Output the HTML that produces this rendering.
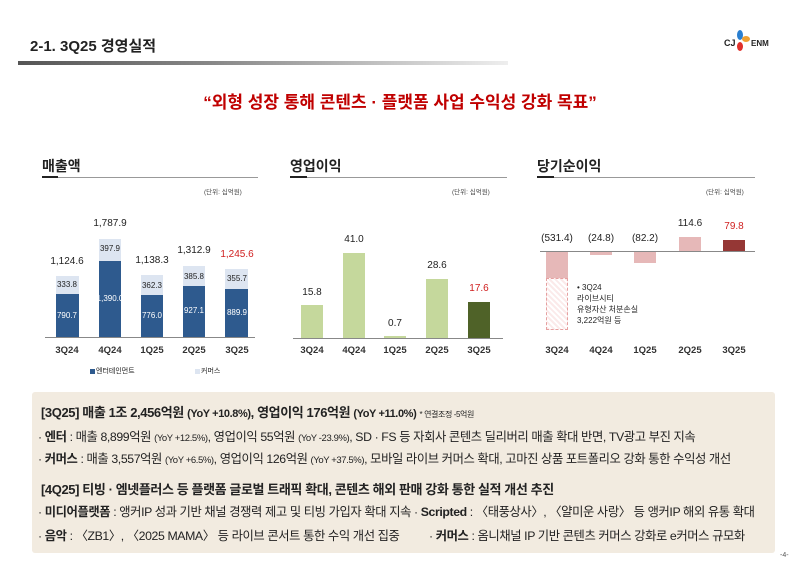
<!DOCTYPE html>
<html><head><meta charset="utf-8"><style>
body{margin:0;width:800px;height:567px;background:#fff;position:relative;overflow:hidden;font-family:"Liberation Sans","Noto Sans CJK KR",sans-serif;color:#222}
.a{position:absolute;white-space:nowrap}
.c{transform:translateX(-50%)}
.b{position:absolute}
.t{font-size:10px}
.h{font-size:14px;font-weight:bold}
.xl{font-size:9.5px;font-weight:bold;color:#333}
.u{font-size:6.5px;color:#444}
.line{position:absolute;height:1px;background:#999}
.dk{position:absolute;height:2px;background:#222}
.bx{font-size:12.3px;color:#222}
.s{font-size:9.5px}
</style></head><body>
<div class="a" style="left:30px;top:35px;font-size:15px;font-weight:bold">2-1. 3Q25 경영실적</div>
<div class="b" style="left:18px;top:61px;width:490px;height:4px;background:linear-gradient(90deg,#555,#888 40%,#eee)"></div>
<div class="b" style="left:737px;top:30px;width:6px;height:10px;border-radius:50%;background:#2a7fd0"></div>
<div class="b" style="left:742px;top:36px;width:8px;height:6px;border-radius:50%;background:#f0a030"></div>
<div class="b" style="left:737px;top:42px;width:6px;height:9px;border-radius:50%;background:#e0302a"></div>
<div class="a" style="left:724px;top:38px;font-size:9px;font-weight:bold">CJ</div>
<div class="a" style="left:751px;top:39px;font-size:8px;font-weight:bold">ENM</div>
<div class="a c" style="left:400px;top:88px;font-size:17px;font-weight:bold;color:#c00000">“외형 성장 통해 콘텐츠 · 플랫폼 사업 수익성 강화 목표”</div>

<!-- chart1 -->
<div class="a h" style="left:42px;top:156px">매출액</div>
<div class="line" style="left:42px;top:177px;width:216px"></div><div class="dk" style="left:42px;top:176px;width:16px"></div>
<div class="a u" style="left:204px;top:186px">(단위: 십억원)</div>
<div class="line" style="left:45px;top:337px;width:210px;background:#888"></div>
<div class="b" style="left:56px;top:276px;width:23px;height:18px;background:#dde5f1"></div><div class="b" style="left:56px;top:294px;width:23px;height:43px;background:#2e5a8e"></div>
<div class="b" style="left:99px;top:239px;width:22px;height:22px;background:#dde5f1"></div><div class="b" style="left:99px;top:261px;width:22px;height:76px;background:#2e5a8e"></div>
<div class="b" style="left:141px;top:275px;width:22px;height:20px;background:#dde5f1"></div><div class="b" style="left:141px;top:295px;width:22px;height:42px;background:#2e5a8e"></div>
<div class="b" style="left:183px;top:266px;width:22px;height:20px;background:#dde5f1"></div><div class="b" style="left:183px;top:286px;width:22px;height:51px;background:#2e5a8e"></div>
<div class="b" style="left:225px;top:269px;width:23px;height:20px;background:#dde5f1"></div><div class="b" style="left:225px;top:289px;width:23px;height:48px;background:#2e5a8e"></div>
<div class="a c t" style="left:67px;top:256px">1,124.6</div>
<div class="a c t" style="left:110px;top:218px">1,787.9</div>
<div class="a c t" style="left:152px;top:255px">1,138.3</div>
<div class="a c t" style="left:194px;top:245px">1,312.9</div>
<div class="a c t" style="left:237px;top:249px;color:#d02020">1,245.6</div>
<div class="a c" style="left:67px;top:280px;font-size:8px">333.8</div>
<div class="a c" style="left:110px;top:244px;font-size:8px">397.9</div>
<div class="a c" style="left:152px;top:281px;font-size:8px">362.3</div>
<div class="a c" style="left:194px;top:272px;font-size:8px">385.8</div>
<div class="a c" style="left:237px;top:274px;font-size:8px">355.7</div>
<div class="a c" style="left:67px;top:311px;font-size:8px;color:#fff">790.7</div>
<div class="a c" style="left:110px;top:294px;font-size:8px;color:#fff">1,390.0</div>
<div class="a c" style="left:152px;top:311px;font-size:8px;color:#fff">776.0</div>
<div class="a c" style="left:194px;top:306px;font-size:8px;color:#fff">927.1</div>
<div class="a c" style="left:237px;top:308px;font-size:8px;color:#fff">889.9</div>
<div class="a c xl" style="left:67px;top:345px">3Q24</div><div class="a c xl" style="left:110px;top:345px">4Q24</div><div class="a c xl" style="left:152px;top:345px">1Q25</div><div class="a c xl" style="left:194px;top:345px">2Q25</div><div class="a c xl" style="left:237px;top:345px">3Q25</div>
<div class="b" style="left:90px;top:369px;width:5px;height:5px;background:#2e5a8e"></div><div class="a" style="left:96px;top:366px;font-size:7px">엔터테인먼트</div>
<div class="b" style="left:195px;top:369px;width:5px;height:5px;background:#dde5f1"></div><div class="a" style="left:201px;top:366px;font-size:7px">커머스</div>

<!-- chart2 -->
<div class="a h" style="left:290px;top:156px">영업이익</div>
<div class="line" style="left:290px;top:177px;width:217px"></div><div class="dk" style="left:290px;top:176px;width:17px"></div>
<div class="a u" style="left:452px;top:186px">(단위: 십억원)</div>
<div class="line" style="left:293px;top:338px;width:210px;background:#888"></div>
<div class="b" style="left:301px;top:305px;width:22px;height:33px;background:#c5d89c"></div>
<div class="b" style="left:343px;top:253px;width:22px;height:85px;background:#c5d89c"></div>
<div class="b" style="left:384px;top:336px;width:22px;height:2px;background:#c5d89c"></div>
<div class="b" style="left:426px;top:279px;width:22px;height:59px;background:#c5d89c"></div>
<div class="b" style="left:468px;top:302px;width:22px;height:36px;background:#4f6228"></div>
<div class="a c t" style="left:312px;top:287px">15.8</div>
<div class="a c t" style="left:354px;top:234px">41.0</div>
<div class="a c t" style="left:395px;top:318px">0.7</div>
<div class="a c t" style="left:437px;top:260px">28.6</div>
<div class="a c t" style="left:479px;top:283px;color:#d02020">17.6</div>
<div class="a c xl" style="left:312px;top:345px">3Q24</div><div class="a c xl" style="left:354px;top:345px">4Q24</div><div class="a c xl" style="left:395px;top:345px">1Q25</div><div class="a c xl" style="left:437px;top:345px">2Q25</div><div class="a c xl" style="left:479px;top:345px">3Q25</div>

<!-- chart3 -->
<div class="a h" style="left:537px;top:156px">당기순이익</div>
<div class="line" style="left:537px;top:177px;width:218px"></div><div class="dk" style="left:537px;top:176px;width:17px"></div>
<div class="a u" style="left:706px;top:186px">(단위: 십억원)</div>
<div class="b" style="left:546px;top:251px;width:22px;height:27px;background:#e6b8b8"></div>
<div class="b" style="left:546px;top:278px;width:20px;height:50px;border:1px dashed #e6a0a0;background:repeating-linear-gradient(45deg,#fbeaea 0 2px,#fff 2px 4px)"></div>
<div class="b" style="left:590px;top:251px;width:22px;height:4px;background:#e6b8b8"></div>
<div class="b" style="left:634px;top:251px;width:22px;height:12px;background:#e6b8b8"></div>
<div class="b" style="left:679px;top:237px;width:22px;height:14px;background:#e6b8b8"></div>
<div class="b" style="left:723px;top:240px;width:22px;height:11px;background:#953735"></div>
<div class="line" style="left:540px;top:251px;width:215px;background:#888"></div>
<div class="a c t" style="left:557px;top:233px">(531.4)</div>
<div class="a c t" style="left:601px;top:233px">(24.8)</div>
<div class="a c t" style="left:645px;top:233px">(82.2)</div>
<div class="a c t" style="left:690px;top:218px">114.6</div>
<div class="a c t" style="left:734px;top:221px;color:#d02020">79.8</div>
<div class="a" style="left:577px;top:282px;font-size:8px;line-height:11px">• 3Q24<br>라이브시티<br>유형자산 처분손실<br>3,222억원 등</div>
<div class="a c xl" style="left:557px;top:345px">3Q24</div><div class="a c xl" style="left:601px;top:345px">4Q24</div><div class="a c xl" style="left:645px;top:345px">1Q25</div><div class="a c xl" style="left:690px;top:345px">2Q25</div><div class="a c xl" style="left:734px;top:345px">3Q25</div>

<!-- box -->
<div class="b" style="left:32px;top:392px;width:743px;height:161px;background:#f2ebe0;border-radius:3px"></div>
<div class="a" style="left:41px;top:402px;font-size:13px;font-weight:bold;letter-spacing:-0.4px">[3Q25] 매출 1조 2,456억원 <span style="font-size:11px">(YoY +10.8%)</span>, 영업이익 176억원 <span style="font-size:11px">(YoY +11.0%)</span> <span style="font-size:8px;font-weight:normal">* 연결조정 -5억원</span></div>
<div class="a bx" style="left:38px;top:427px;letter-spacing:-0.4px">· <b>엔터</b> : 매출 8,899억원 <span class="s">(YoY +12.5%)</span>, 영업이익 55억원 <span class="s">(YoY -23.9%)</span>, SD · FS 등 자회사 콘텐츠 딜리버리 매출 확대 반면, TV광고 부진 지속</div>
<div class="a bx" style="left:38px;top:449px;letter-spacing:-0.4px">· <b>커머스</b> : 매출 3,557억원 <span class="s">(YoY +6.5%)</span>, 영업이익 126억원 <span class="s">(YoY +37.5%)</span>, 모바일 라이브 커머스 확대, 고마진 상품 포트폴리오 강화 통한 수익성 개선</div>
<div class="a" style="left:41px;top:479px;font-size:13px;font-weight:bold;letter-spacing:-0.4px">[4Q25] 티빙 · 엠넷플러스 등 플랫폼 글로벌 트래픽 확대, 콘텐츠 해외 판매 강화 통한 실적 개선 추진</div>
<div class="a bx" style="left:38px;top:502px;letter-spacing:-0.4px">· <b>미디어플랫폼</b> : 앵커IP 성과 기반 채널 경쟁력 제고 및 티빙 가입자 확대 지속 · <b>Scripted</b> : 〈태풍상사〉, 〈얄미운 사랑〉 등 앵커IP 해외 유통 확대</div>
<div class="a bx" style="left:38px;top:526px;letter-spacing:-0.4px">· <b>음악</b> : 〈ZB1〉, 〈2025 MAMA〉 등 라이브 콘서트 통한 수익 개선 집중</div>
<div class="a bx" style="left:429px;top:526px;letter-spacing:-0.4px">· <b>커머스</b> : 옴니채널 IP 기반 콘텐츠 커머스 강화로 e커머스 규모화</div>
<div class="a" style="left:780px;top:552px;font-size:7px;color:#555">-4-</div>
</body></html>
